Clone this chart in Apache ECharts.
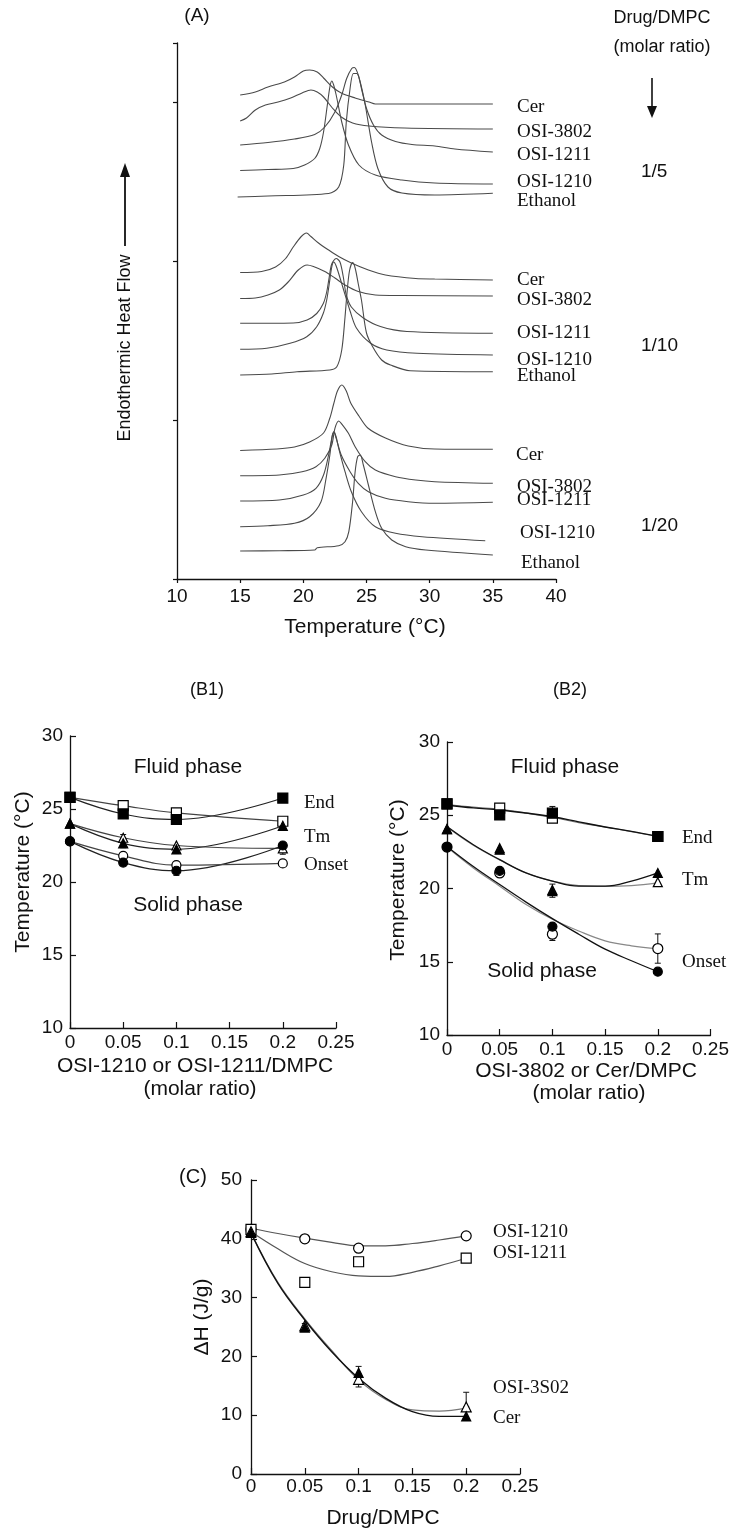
<!DOCTYPE html>
<html><head><meta charset="utf-8">
<script src="https://cdn.jsdelivr.net/npm/echarts@6/dist/echarts.min.js"></script>
<style>html,body{margin:0;padding:0;background:#fff}#c{width:732px;height:1529px}</style>
</head><body><div id="c"></div>
<script>
// ---------- Panel A: DSC thermograms [temperature °C, heat flow (arb. units, offset stacks)] ----------
const cer5 = [[15,484],[16.2,487],[17.2,492],[18.5,497],[19.3,502],[20,508],[20.5,509],[21.1,507],[21.6,501],[22.3,492],[23,486],[24.1,481],[25.2,477],[25.7,475],[30,475],[35,475]];
const osi3802_5 = [[15,458],[15.5,461],[16.2,469],[17,474],[18,477],[19,481],[19.9,486],[20.6,489],[21.1,487],[21.6,482],[22.3,471],[23,462],[23.9,456],[25.2,453],[28,451],[35,450]];
const osi1211_5 = [[15,434],[17.2,436.5],[19.3,440],[20.9,444.5],[21.7,452],[22.5,467],[23.04,484],[23.43,500.5],[23.83,510.5],[24.04,511.5],[24.35,504],[24.6,490.5],[25,470.5],[25.55,454],[26.2,444],[27.3,437.5],[28.6,434.5],[30.4,433],[32,430],[35,427]];
const osi1210_5 = [[15,408.5],[17.2,409.5],[19.2,410.5],[20.1,414],[20.9,420.5],[21.3,430.5],[21.6,447],[21.9,474],[22.1,492],[22.25,498],[22.4,494],[22.6,484],[23.04,457],[23.57,434],[24.4,414],[25.7,404],[27.8,399],[30.4,396],[35,395]];
const ethanol_5 = [[14.8,382],[17.2,383],[22,385.5],[22.8,392],[23.2,414],[23.4,457],[23.7,490.5],[23.96,505.5],[24.23,505.5],[24.5,497],[24.9,474],[25.4,437],[25.9,410.5],[26.7,392],[27.8,386],[30.4,384],[35,385.7]];

const cer10 = [[15,306.5],[16.7,307.5],[17.8,312],[18.6,320.5],[19.2,332],[19.8,342],[20.25,346],[20.6,342.5],[21.2,336],[22,329],[22.8,322.5],[23.8,316],[25.15,309],[26.5,304],[28.9,300.5],[30.4,300],[35,299]];
const osi3802_10 = [[15,280.5],[16.2,281],[17.2,284],[18.1,289],[18.8,297],[19.6,309],[20.3,314],[20.8,312.5],[21.7,307.5],[22.5,301],[23.3,294],[24.35,287.5],[25.7,284],[27.8,283.5],[35,283]];
const osi1211_10 = [[15,255.7],[19.2,256],[20.3,259],[21.06,265.5],[21.58,275.5],[21.85,287],[22.05,302],[22.25,315],[22.6,320.5],[22.9,317],[23.15,303],[23.4,284],[23.8,272],[24.75,261],[26.1,252.5],[28.2,247.5],[35,245.7]];
const osi1210_10 = [[15,229.7],[17.1,230.7],[18.95,235.7],[20.27,242.3],[21.06,252.3],[21.58,265.7],[21.85,279],[22.05,295],[22.25,312],[22.4,317],[22.6,313],[23,297],[23.7,268],[24.2,251],[25.3,236],[26.6,229],[29,225.7],[35,224]];
const ethanol_10 = [[15,204],[17.5,205],[19.5,207.3],[22.1,209],[22.65,212.3],[23.04,229],[23.3,262],[23.45,285],[23.65,308],[23.9,316.5],[24.1,311],[24.35,295],[24.6,279],[25,246],[25.5,232],[26.2,219],[26.9,214],[28.45,208.3],[35,207.3]];

const cer20 = [[15,128.5],[17.9,130],[19.3,132],[20.5,137],[21.6,146],[22.1,161],[22.4,175],[22.7,188],[23.05,194],[23.4,188],[23.75,176],[24.4,163],[25.1,151],[26.5,141],[28.3,133],[30.4,130],[35,129.7]];
const osi3802_20 = [[15,103.3],[18.1,104],[19.9,107.3],[21,112.3],[21.7,120.7],[22.25,134],[22.5,150.7],[22.8,158],[23,155.7],[23.57,145.7],[24.1,132.3],[24.9,117.3],[25.7,109],[27.3,102.3],[28.9,99],[30.4,97.3],[35,95.7]];
const osi1211_20 = [[15,78],[18.1,79],[20,84],[21,90.7],[21.6,104],[22,124],[22.25,140.7],[22.4,147.3],[22.6,140.7],[23,124],[23.7,107.3],[24.35,95.7],[25.15,87.3],[26.5,80.7],[28.3,77.3],[30.4,75.7],[35,76.7]];
const osi1210_20 = [[15,52.3],[17.2,53.3],[19.3,55.7],[20.5,62.3],[21.4,77.3],[21.8,100.7],[22.1,124],[22.3,144],[22.45,147],[22.6,142],[22.8,130.7],[23.3,107.3],[23.8,87.3],[24.6,67.3],[25.7,52.3],[27.3,45.7],[29.4,42.3],[34.4,38.3]];
const ethanol_20 = [[15,28],[18.1,28.3],[20.9,29],[21.1,31.3],[22.8,33.3],[23.3,37.3],[23.6,47.3],[23.9,77.3],[24.1,107.3],[24.3,122.3],[24.5,124],[24.75,114],[25.15,94],[25.7,67.3],[26.2,50.7],[27,39],[28.1,32.3],[29.7,29],[35,24]];

const curveNames = ['Cer','OSI-3802','OSI-1211','OSI-1210','Ethanol'];
const ratioLabels = ['1/5','1/10','1/20'];

// ---------- Panel B1 / B2: transition temperatures (°C) vs molar ratio ----------
const ratioB = [0, 0.05, 0.1, 0.2];
const b1EndFilled = [25.8, 24.66, 24.28, 25.75];
const b1EndOpen = [25.8, 25.23, 24.73, 24.16];
const b1TmFilled = [24.0, 22.65, 22.24, 23.85];
const b1TmOpen = [24.0, 23.03, 22.5, 22.3];
const b1OnsetFilled = [22.78, 21.33, 20.77, 22.5];
const b1OnsetOpen = [22.78, 21.79, 21.15, 21.27];
const b1Err = [[0.05,22.35,22.95],[0.1,21.95,22.5],[0.1,20.45,21.05],[0.2,21.9,22.6],[0.05,22.8,23.25]];

const b2EndFilled = [25.77, 25.02, 25.14, 23.55];
const b2EndOpen = [25.77, 25.48, 24.8, 23.55];
const b2TmFilled = [24.05, 22.65, 19.82, 21.06];
const b2TmOpen = [24.05, 22.75, 19.9, 20.43];
const b2OnsetFilled = [22.83, 21.2, 17.4, 14.32];
const b2OnsetOpen = [22.83, 21.06, 16.88, 15.9];
const b2Err = [[0.1,24.8,25.6],[0.1,19.4,20.3],[0.1,16.45,17.3],[0.2,14.9,16.9]];

const fitX = [0, 0.025, 0.05, 0.075, 0.1, 0.125, 0.15, 0.175, 0.2];
const b2EndFitA = [25.7, 25.5, 25.36, 25.15, 24.9, 24.55, 24.2, 23.9, 23.55];
const b2EndFitB = [25.75, 25.55, 25.4, 25.15, 24.85, 24.5, 24.2, 23.88, 23.55];
const b2TmFitFilled = [24.23, 22.99, 21.97, 21.06, 20.5, 20.16, 20.16, 20.5, 21.06];
const b2TmFitOpen = [24.2, 22.95, 21.95, 21.06, 20.5, 20.2, 20.15, 20.2, 20.38];
const b2OnsetFitOpen = [22.83, 21.4, 20.16, 18.91, 17.9, 17.1, 16.43, 16.09, 15.9];
const b2OnsetFitFilled = [22.87, 21.5, 20.27, 19.07, 17.94, 16.88, 15.86, 15.07, 14.32];

// ---------- Panel C: enthalpy (J/g) vs Drug/DMPC ----------
const c1210 = [41.6, 40.0, 38.4, 40.5];
const c1211 = [41.6, 32.6, 36.1, 36.7];
const c3802 = [41.2, 25.2, 16.1, 11.4];
const cCer = [41.0, 24.9, 17.2, 9.8];
const c1210Fit = [41.8, 40.9, 40.1, 39.4, 38.8, 38.8, 39.2, 39.8, 40.5];
const c1211Fit = [41.2, 38.3, 35.8, 34.4, 33.7, 33.6, 34.3, 35.4, 36.7];
const cCerFit = [41.0, 32.4, 26.2, 20.8, 16.3, 12.9, 10.6, 9.8, 9.8];
const c3802Fit = [41.0, 32.6, 26.4, 21.0, 16.0, 12.7, 10.9, 10.7, 11.2];
const cErr = [[0.1,14.8,18.3],[0.2,11.4,13.9],[0.05,24.4,25.6]];
const cLabels = ['OSI-1210','OSI-1211','OSI-3S02','Cer'];

// ---------- helpers ----------
const SANS = '"Liberation Sans", Arial, sans-serif';
const SERIF = '"Liberation Serif", "Times New Roman", serif';
const INK = '#111';
const pair = (xs, ys) => xs.map((x, i) => [x, ys[i]]);
const fmtR = v => v === 0 ? '0' : String(+v.toFixed(2));

function xAx(gi, min, max, itv, opt) {
  return Object.assign({
    gridIndex: gi, type: 'value', min, max, interval: itv,
    axisLine: {show: true, onZero: false, lineStyle: {color: INK, width: 1.3}},
    axisTick: {show: true, inside: true, length: 6, lineStyle: {color: INK, width: 1.2}},
    axisLabel: {show: true, color: INK, fontSize: 19, fontFamily: SANS, margin: 5, formatter: fmtR},
    splitLine: {show: false}
  }, opt || {});
}
function yAx(gi, min, max, itv, opt) {
  return Object.assign({
    gridIndex: gi, type: 'value', min, max, interval: itv,
    axisLine: {show: true, onZero: false, lineStyle: {color: INK, width: 1.3}},
    axisTick: {show: true, inside: true, length: 6, lineStyle: {color: INK, width: 1.2}},
    axisLabel: {show: true, color: INK, fontSize: 19, fontFamily: SANS, margin: 7},
    splitLine: {show: false}
  }, opt || {});
}

const series = [];
// Panel A curves
const groupsA = [
  [cer5, osi3802_5, osi1211_5, osi1210_5, ethanol_5],
  [cer10, osi3802_10, osi1211_10, osi1210_10, ethanol_10],
  [cer20, osi3802_20, osi1211_20, osi1210_20, ethanol_20]
];
groupsA.forEach((g, gi) => g.forEach((d, k) => series.push({
  name: ratioLabels[gi] + ' ' + curveNames[k], type: 'line', xAxisIndex: 0, yAxisIndex: 0,
  data: d, showSymbol: false, smooth: 0.3, silent: true,
  lineStyle: {color: '#4a4a4a', width: 1.1}
})));

function lineS(ax, data, color, w, smooth) {
  series.push({type: 'line', xAxisIndex: ax, yAxisIndex: ax, data, showSymbol: false,
    smooth: smooth, lineStyle: {color, width: w}, z: 2, silent: true});
}
function scatS(ax, data, symbol, filled, size) {
  series.push({type: 'scatter', xAxisIndex: ax, yAxisIndex: ax, data, symbol, symbolSize: size,
    itemStyle: {color: filled ? '#000' : '#fff', borderColor: '#000', borderWidth: 1.2, opacity: 1}, z: 5, silent: true});
}
function errS(ax, data) {
  series.push({type: 'custom', xAxisIndex: ax, yAxisIndex: ax, data, z: 4, silent: true,
    renderItem: (p, api) => {
      const a = api.coord([api.value(0), api.value(1)]);
      const b = api.coord([api.value(0), api.value(2)]);
      const st = {stroke: '#111', lineWidth: 1};
      return {type: 'group', children: [
        {type: 'line', shape: {x1: a[0], y1: a[1], x2: b[0], y2: b[1]}, style: st},
        {type: 'line', shape: {x1: a[0] - 3, y1: a[1], x2: a[0] + 3, y2: a[1]}, style: st},
        {type: 'line', shape: {x1: b[0] - 3, y1: b[1], x2: b[0] + 3, y2: b[1]}, style: st}
      ]};
    }});
}

// B1 (axis index 1): lines through points
lineS(1, pair(ratioB, b1EndFilled), '#222', 1.2, 0.4);
lineS(1, pair(ratioB, b1EndOpen), '#444', 1.2, 0.4);
lineS(1, pair(ratioB, b1TmFilled), '#222', 1.2, 0.4);
lineS(1, pair(ratioB, b1TmOpen), '#444', 1.2, 0.4);
lineS(1, pair(ratioB, b1OnsetFilled), '#222', 1.2, 0.4);
lineS(1, pair(ratioB, b1OnsetOpen), '#444', 1.2, 0.4);
errS(1, b1Err);
scatS(1, pair(ratioB, b1EndOpen), 'rect', false, 10);
scatS(1, pair(ratioB, b1EndFilled), 'rect', true, 10);
scatS(1, pair(ratioB, b1TmOpen), 'triangle', false, 9);
scatS(1, pair(ratioB, b1TmFilled), 'triangle', true, 9);
scatS(1, pair(ratioB, b1OnsetOpen), 'circle', false, 9);
scatS(1, pair(ratioB, b1OnsetFilled), 'circle', true, 9);

// B2 (axis index 2): fitted curves + points
lineS(2, pair(fitX, b2EndFitB), '#777', 1.2, 0.4);
lineS(2, pair(fitX, b2EndFitA), '#111', 1.4, 0.4);
lineS(2, pair(fitX, b2TmFitOpen), '#888', 1.2, 0.4);
lineS(2, pair(fitX, b2TmFitFilled), '#111', 1.3, 0.4);
lineS(2, pair(fitX, b2OnsetFitOpen), '#888', 1.2, 0.4);
lineS(2, pair(fitX, b2OnsetFitFilled), '#111', 1.3, 0.4);
errS(2, b2Err);
scatS(2, pair(ratioB, b2EndOpen), 'rect', false, 10);
scatS(2, pair(ratioB, b2EndFilled), 'rect', true, 10);
scatS(2, pair(ratioB, b2TmOpen), 'triangle', false, 9);
scatS(2, pair(ratioB, b2TmFilled), 'triangle', true, 9);
scatS(2, pair(ratioB, b2OnsetOpen), 'circle', false, 10);
scatS(2, pair(ratioB, b2OnsetFilled), 'circle', true, 9);

// C (axis index 3)
lineS(3, pair(fitX, c1210Fit), '#555', 1.2, 0.4);
lineS(3, pair(fitX, c1211Fit), '#555', 1.2, 0.4);
lineS(3, pair(fitX, c3802Fit), '#777', 1.2, 0.4);
lineS(3, pair(fitX, cCerFit), '#111', 1.4, 0.4);
errS(3, cErr);
scatS(3, pair(ratioB, c1210), 'circle', false, 10);
scatS(3, pair(ratioB, c1211), 'rect', false, 10);
scatS(3, pair(ratioB, c3802), 'triangle', false, 10);
scatS(3, pair(ratioB, cCer), 'triangle', true, 9);

// ---------- text ----------
function T(text, x, y, size, o) {
  o = o || {};
  return {type: 'text', x, y, rotation: o.rot || 0, z: 10, silent: true,
    style: {text, fill: INK, font: size + 'px ' + (o.serif ? SERIF : SANS),
      textAlign: o.align || 'center', textVerticalAlign: 'middle'}};
}
const g = [];
g.push(T('(A)', 197, 16, 19));
const labY = [[107,132,155,182,201],[280,300,333,360,376],[455,487,500,533,563]];
const labX = [[517,517,517,517,517],[517,517,517,517,517],[516,517,517,520,521]];
labY.forEach((row, gi) => row.forEach((y, k) => g.push(T(curveNames[k], labX[gi][k], y, 19, {serif: true, align: 'left'}))));
g.push(T(ratioLabels[0], 641, 172, 19, {align: 'left'}));
g.push(T(ratioLabels[1], 641, 346, 19, {align: 'left'}));
g.push(T(ratioLabels[2], 641, 526, 19, {align: 'left'}));
g.push(T('Drug/DMPC', 662, 18, 18));
g.push(T('(molar ratio)', 662, 47, 18));
g.push({type: 'line', shape: {x1: 652, y1: 78, x2: 652, y2: 108}, style: {stroke: INK, lineWidth: 1.6}});
g.push({type: 'polygon', shape: {points: [[647, 106], [657, 106], [652, 118]]}, style: {fill: INK}});
g.push(T('Temperature (°C)', 365, 627, 21));
g.push(T('Endothermic Heat Flow', 125, 348, 18, {rot: Math.PI / 2}));
g.push({type: 'line', shape: {x1: 125, y1: 246, x2: 125, y2: 174}, style: {stroke: INK, lineWidth: 1.8}});
g.push({type: 'polygon', shape: {points: [[120, 177], [130, 177], [125, 163]]}, style: {fill: INK}});

g.push(T('(B1)', 207, 690, 18));
g.push(T('Temperature (°C)', 23, 872, 21, {rot: Math.PI / 2}));
g.push(T('OSI-1210 or OSI-1211/DMPC', 195, 1066, 21));
g.push(T('(molar ratio)', 200, 1089, 21));
g.push(T('Fluid phase', 188, 767, 21));
g.push(T('Solid phase', 188, 905, 21));
g.push(T('End', 304, 803, 19, {serif: true, align: 'left'}));
g.push(T('Tm', 304, 837, 19, {serif: true, align: 'left'}));
g.push(T('Onset', 304, 865, 19, {serif: true, align: 'left'}));

g.push(T('(B2)', 570, 690, 18));
g.push(T('Temperature (°C)', 398, 880, 21, {rot: Math.PI / 2}));
g.push(T('OSI-3802 or Cer/DMPC', 586, 1071, 21));
g.push(T('(molar ratio)', 589, 1093, 21));
g.push(T('Fluid phase', 565, 767, 21));
g.push(T('Solid phase', 542, 971, 21));
g.push(T('End', 682, 838, 19, {serif: true, align: 'left'}));
g.push(T('Tm', 682, 880, 19, {serif: true, align: 'left'}));
g.push(T('Onset', 682, 962, 19, {serif: true, align: 'left'}));

g.push(T('(C)', 193, 1177, 20));
g.push(T('ΔH (J/g)', 202, 1317, 21, {rot: Math.PI / 2}));
g.push(T('Drug/DMPC', 383, 1518, 21));
[1232, 1253, 1388, 1418].forEach((y, i) => g.push(T(cLabels[i], 493, y, 19, {serif: true, align: 'left'})));

const option = {
  animation: false,
  backgroundColor: '#fff',
  grid: [
    {left: 177, top: 43, width: 379, height: 536},
    {left: 70, top: 736, width: 266, height: 292},
    {left: 447, top: 742, width: 270, height: 293},
    {left: 251, top: 1180, width: 269, height: 294}
  ],
  xAxis: [
    xAx(0, 10, 40, 5, {
      axisTick: {show: true, inside: false, length: 4, lineStyle: {color: INK, width: 1.2}},
      axisLabel: {show: true, color: INK, fontSize: 19, fontFamily: SANS, margin: 8}
    }),
    xAx(1, 0, 0.25, 0.05),
    xAx(2, 0, 0.25, 0.05),
    xAx(3, 0, 0.25, 0.05, {axisLabel: {show: true, color: INK, fontSize: 19, fontFamily: SANS, margin: 3, formatter: fmtR}})
  ],
  yAxis: [
    yAx(0, 0, 536, 159, {
      axisTick: {show: true, inside: false, length: 4, lineStyle: {color: INK, width: 1.2}},
      axisLabel: {show: false}
    }),
    yAx(1, 10, 30, 5),
    yAx(2, 10, 30, 5),
    yAx(3, 0, 50, 10, {axisLabel: {show: true, color: INK, fontSize: 19, fontFamily: SANS, margin: 9}})
  ],
  series,
  graphic: g
};
const chart = echarts.init(document.getElementById('c'), null, {renderer: 'canvas'});
chart.setOption(option);
</script></body></html>
